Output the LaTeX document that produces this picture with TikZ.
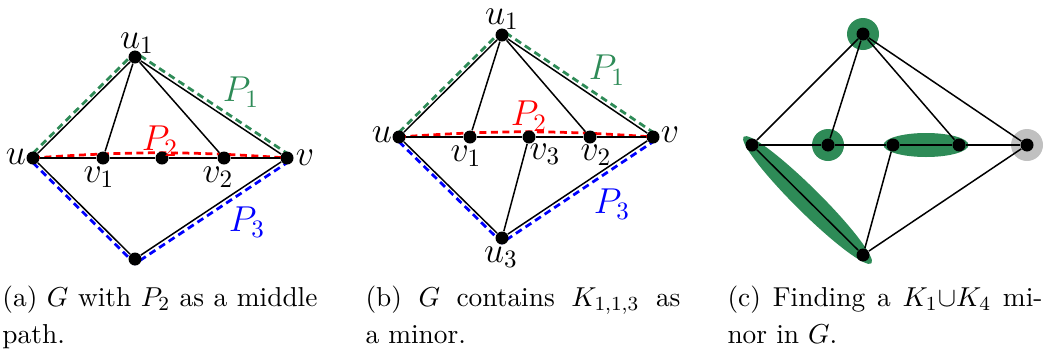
\documentclass[tikz,border=0pt]{standalone}
\usetikzlibrary{positioning, shapes.geometric, backgrounds}

\definecolor{pathgreen}{RGB}{46,139,87}
\definecolor{pathgrey}{RGB}{192,192,192}

\tikzset{
  vtx/.style={circle, fill=black, inner sep=0pt, minimum size=5.2pt},
  lbl/.style={inner sep=0pt, font=\fontsize{14.4}{17}\selectfont},
  edge/.style={semithick},
  pathline/.style={line width=1.1pt, dash pattern=on 2.8pt off 1.8pt},
  blob/.style={fill=pathgreen, inner sep=0pt},
  capt/.style={anchor=north west, inner sep=0pt, text width=126pt, align=justify, font=\fontsize{10.95}{14.8}\selectfont}
}

\begin{document}
\begin{tikzpicture}[x=0.4pt, y=-0.4pt]
\useasboundingbox (0,0) rectangle (1051,354);

% (a) G with P2 as a middle path
\foreach \n/\x/\y in {ua1/135/57, ua/33/158, va1/103/158, vam/162/158, va2/224/158, va/287/158, ba/135/259}
  \node[vtx] (\n) at (\x,\y) {};
\foreach \a/\b in {ua/ua1, ua1/va1, ua1/va2, ua1/va, ua/va1, va1/vam, vam/va2, va2/va, ua/ba, ba/va}
  \draw[edge] (\a) -- (\b);
\begin{scope}[on background layer]
  \draw[pathline, pathgreen, transform canvas={yshift=1.9pt}] (ua.center) -- (ua1.center) -- (va.center);
  \draw[pathline, red] (ua.center) to[bend left=4] (va.center);
  \draw[pathline, blue, transform canvas={yshift=-1.9pt}] (ua.center) -- (ba.center) -- (va.center);
\end{scope}
\node[lbl] (la1) at (137,43) {$u_1$};
\node[lbl] (la) at (16,157) {$u$};
\node[lbl] (lav1) at (99,177) {$v_1$};
\node[lbl] (lav2) at (218,177) {$v_2$};
\node[lbl] (lav) at (305,158) {$v$};
\node[lbl, text=pathgreen] (pa1) at (241,92) {$P_1$};
\node[lbl, text=red] (pa2) at (160,141) {$P_2$};
\node[lbl, text=blue] (pa3) at (247,222) {$P_3$};

% (b) G contains K_{1,1,3} as a minor
\foreach \n/\x/\y in {ub1/502/35, ub/399/137, vb1/470/137, vb3/529/137, vb2/590/137, vb/653/137, ub3/502/238}
  \node[vtx] (\n) at (\x,\y) {};
\foreach \a/\b in {ub/ub1, ub1/vb1, ub1/vb2, ub1/vb, ub/vb1, vb1/vb3, vb3/vb2, vb2/vb, ub/ub3, ub3/vb3, ub3/vb}
  \draw[edge] (\a) -- (\b);
\begin{scope}[on background layer]
  \draw[pathline, pathgreen, transform canvas={yshift=1.9pt}] (ub.center) -- (ub1.center) -- (vb.center);
  \draw[pathline, red] (ub.center) to[bend left=4] (vb.center);
  \draw[pathline, blue, transform canvas={yshift=-1.9pt}] (ub.center) -- (ub3.center) -- (vb.center);
\end{scope}
\node[lbl] (lb1) at (502,19) {$u_1$};
\node[lbl] (lb) at (382,135) {$u$};
\node[lbl] (lbv1) at (466,156) {$v_1$};
\node[lbl] (lbv3) at (545,154) {$v_3$};
\node[lbl] (lbv2) at (596,155) {$v_2$};
\node[lbl] (lbv) at (670,135) {$v$};
\node[lbl] (lb3) at (501,257) {$u_3$};
\node[lbl, text=pathgreen] (pb1) at (607,70) {$P_1$};
\node[lbl, text=red] (pb2) at (529,116) {$P_2$};
\node[lbl, text=blue] (pb3) at (612,204) {$P_3$};

% (c) K_1 u K_4 minor
\foreach \n/\x/\y in {uc1/863/34, uc/752/145, vc1/828/145, vc3/893/145, vc2/959/145, vc/1027/145, uc3/863/255}
  \node[vtx] (\n) at (\x,\y) {};
\foreach \a/\b in {uc/uc1, uc1/vc1, uc1/vc2, uc1/vc, uc/vc1, vc1/vc3, vc3/vc2, vc2/vc, uc/uc3, uc3/vc3, uc3/vc}
  \draw[edge] (\a) -- (\b);
\begin{scope}[on background layer]
  \fill[pathgreen] (uc1.center) circle (6.4pt);
  \fill[pathgreen] (vc1.center) circle (6.4pt);
  \fill[pathgrey] (vc.center) circle (6.4pt);
  \path (vc3) -- node[blob, ellipse, sloped, minimum width=34pt, minimum height=9.6pt] (e32) {} (vc2);
  \path (uc) -- node[blob, ellipse, sloped, minimum width=72pt, minimum height=10pt] (euu3) {} (uc3);
\end{scope}

% captions
\node[capt] (capa) at (2,285) {(a) $G$ with $P_2$ as a middle\linebreak path.};
\node[capt] (capb) at (365,285) {(b) $G$ contains $K_{1,1,3}$ as\linebreak a minor.};
\node[capt] (capc) at (727,285) {(c) Finding a $K_1{\cup}K_4$ mi-\linebreak nor in $G$.};
\end{tikzpicture}
\end{document}
